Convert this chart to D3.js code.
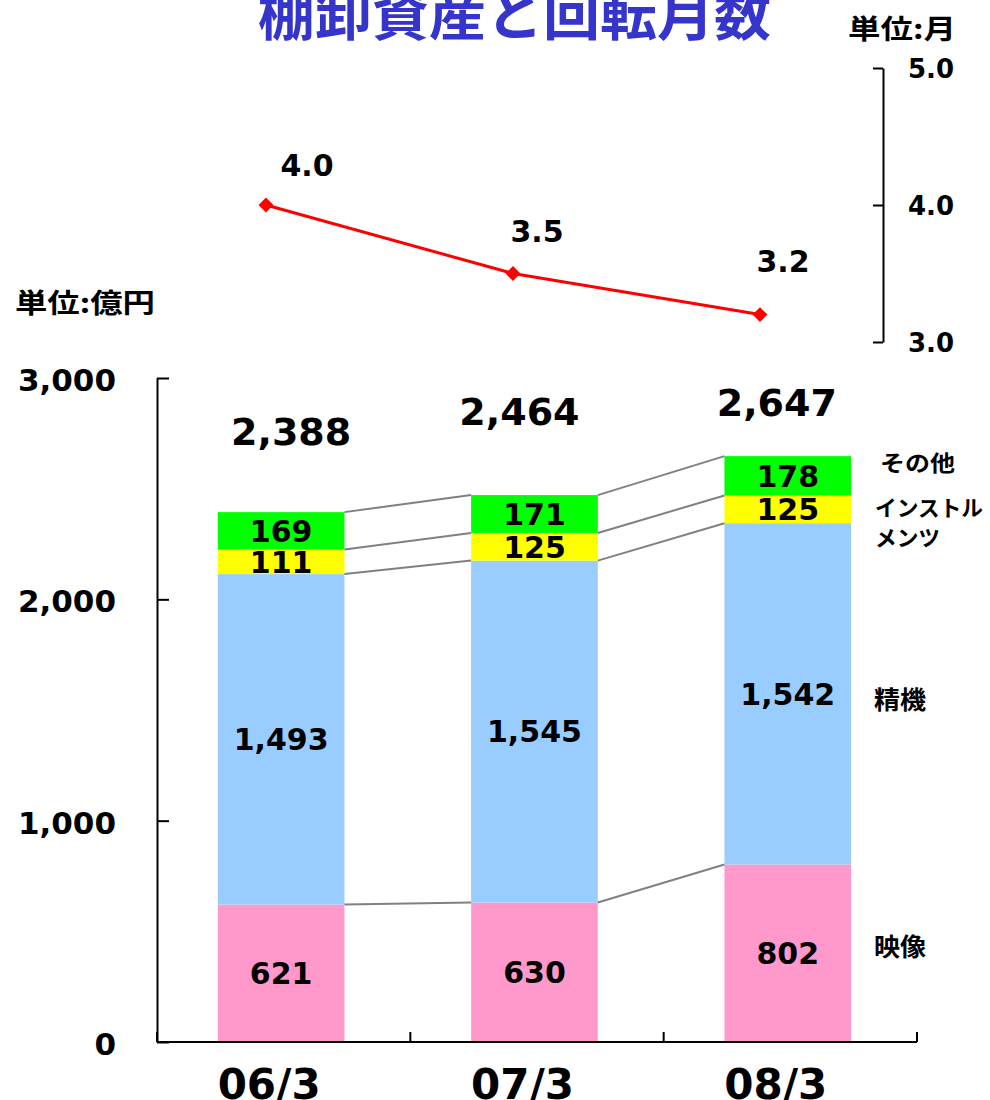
<!DOCTYPE html>
<html><head><meta charset="utf-8">
<script src="https://cdn.jsdelivr.net/npm/d3@7"></script>
<style>
html,body{margin:0;padding:0;background:#fff;}
svg{display:block;}
</style></head>
<body><svg id="c" width="990" height="1100"></svg>
<script>
// ---- data ----
const categories = ["06/3", "07/3", "08/3"];
const seriesNames = ["映像", "精機", "インストルメンツ", "その他"];
const eizo = [621, 630, 802];
const seiki = [1493, 1545, 1542];
const instruments = [111, 125, 125];
const sonota = [169, 171, 178];
const totals = [2388, 2464, 2647];
const months = [4.0, 3.5, 3.2];
const leftTicks = [0, 1000, 2000, 3000];
const rightTicks = [3.0, 4.0, 5.0];

// ---- layout ----
const colors = ["#ff99cc", "#99ccff", "#ffff00", "#00ff00"];
const numFont = "'DejaVu Sans', Verdana, sans-serif";
const jpFont = "'Noto Sans CJK JP', 'Noto Sans', sans-serif";
const totalNudge = [[10, -67], [-15, -70], [-11, -40]];
const monthNudge = [[41, -29], [24, -32], [23, -43]];

const svg = d3.select("#c");
const stacks = [eizo, seiki, instruments, sonota];
const rows = categories.map((c, i) => {
  const o = {cat: c};
  seriesNames.forEach((s, k) => o[s] = stacks[k][i]);
  return o;
});
const stacked = d3.stack().keys(seriesNames)(rows);

const y = d3.scaleLinear().domain([0, 3000]).range([1042, 378]);
const x = d3.scaleBand().domain(categories).range([157, 917])
  .paddingInner(0.5).paddingOuter(0.25).align(0.48);
const yR = d3.scaleLinear().domain([3, 5]).range([342, 68]);
const xL = d3.scalePoint().domain(categories).range([266, 760]);

// title
svg.append("text").attr("x", 258).attr("y", 35)
  .attr("textLength", 513).attr("lengthAdjust", "spacingAndGlyphs")
  .style("font-family", jpFont).style("font-weight", "bold")
  .style("font-size", "56px").attr("fill", "#3535cc")
  .text("棚卸資産と回転月数");

svg.append("text").attr("x", 848).attr("y", 39)
  .attr("textLength", 108).attr("lengthAdjust", "spacingAndGlyphs")
  .style("font-family", jpFont).style("font-weight", "bold")
  .style("font-size", "27px").text("単位:月");

svg.append("text").attr("x", 15).attr("y", 313)
  .attr("textLength", 140).attr("lengthAdjust", "spacingAndGlyphs")
  .style("font-family", jpFont).style("font-weight", "bold")
  .style("font-size", "27px").text("単位:億円");

// bars
const bw = x.bandwidth();
stacked.forEach((layer, k) => {
  svg.append("g").selectAll("rect").data(layer).join("rect")
    .attr("x", (d, i) => x(categories[i]))
    .attr("y", d => y(d[1]))
    .attr("width", bw)
    .attr("height", d => y(d[0]) - y(d[1]))
    .attr("fill", colors[k]);
});

// connector lines
stacked.forEach(layer => {
  for (let i = 0; i < categories.length - 1; i++) {
    svg.append("line")
      .attr("x1", x(categories[i]) + bw).attr("y1", y(layer[i][1]))
      .attr("x2", x(categories[i + 1])).attr("y2", y(layer[i + 1][1]))
      .attr("stroke", "#808080").attr("stroke-width", 2);
  }
});

// segment labels
stacked.forEach(layer => {
  svg.append("g").selectAll("text").data(layer).join("text")
    .attr("x", (d, i) => x(categories[i]) + bw / 2)
    .attr("y", d => y((d[0] + d[1]) / 2))
    .attr("dy", "0.36em")
    .attr("text-anchor", "middle")
    .style("font-family", numFont).style("font-weight", "bold")
    .style("font-size", "30px")
    .text(d => d3.format(",")(d[1] - d[0]));
});

// totals
const topLayer = stacked[stacked.length - 1];
svg.append("g").selectAll("text").data(totals).join("text")
  .attr("x", (d, i) => x(categories[i]) + bw / 2 + totalNudge[i][0])
  .attr("y", (d, i) => y(topLayer[i][1]) + totalNudge[i][1])
  .attr("text-anchor", "middle")
  .style("font-family", numFont).style("font-weight", "bold")
  .style("font-size", "38px")
  .text(d => d3.format(",")(d));

// left axis
const gL = svg.append("g").attr("transform", "translate(157,0)")
  .call(d3.axisLeft(y).tickValues(leftTicks).tickFormat(d3.format(","))
    .tickSizeInner(-12).tickSizeOuter(0).tickPadding(41));
gL.select(".domain").attr("stroke", "#000").attr("stroke-width", 2);
gL.selectAll(".tick line").attr("stroke", "#000").attr("stroke-width", 2);
gL.selectAll(".tick text").attr("dy", "0.4em")
  .style("font-family", numFont).style("font-weight", "bold").style("font-size", "31px");

// bottom axis
const r = x.range();
const gB = svg.append("g");
gB.append("line").attr("x1", r[0]).attr("x2", r[1])
  .attr("y1", y(0)).attr("y2", y(0)).attr("stroke", "#000").attr("stroke-width", 2);
d3.range(categories.length + 1).forEach(i => {
  const xx = r[0] + i * (r[1] - r[0]) / categories.length;
  gB.append("line").attr("x1", xx).attr("x2", xx)
    .attr("y1", y(0)).attr("y2", y(0) - 10).attr("stroke", "#000").attr("stroke-width", 2);
});
gB.selectAll("text.cat").data(categories).join("text").attr("class", "cat")
  .attr("x", d => x(d) + bw / 2 - 12).attr("y", y(0) + 57)
  .attr("text-anchor", "middle")
  .style("font-family", numFont).style("font-weight", "bold").style("font-size", "42px")
  .text(d => d);

// right axis
const gR = svg.append("g").attr("transform", "translate(883,0)")
  .call(d3.axisRight(yR).tickValues(rightTicks).tickFormat(d3.format(".1f"))
    .tickSizeInner(-10).tickSizeOuter(0).tickPadding(25));
gR.select(".domain").attr("stroke", "#000").attr("stroke-width", 2);
gR.selectAll(".tick line").attr("stroke", "#000").attr("stroke-width", 2);
gR.selectAll(".tick text").attr("dy", "0.36em")
  .style("font-family", numFont).style("font-weight", "bold").style("font-size", "26px");

// line
svg.append("path").datum(months)
  .attr("d", d3.line().x((d, i) => xL(categories[i])).y(d => yR(d)))
  .attr("fill", "none").attr("stroke", "#ff0000").attr("stroke-width", 3);
svg.append("g").selectAll("path").data(months).join("path")
  .attr("d", d3.symbol(d3.symbolSquare, 110))
  .attr("transform", (d, i) => `translate(${xL(categories[i])},${yR(d)}) rotate(45)`)
  .attr("fill", "#ff0000");
svg.append("g").selectAll("text").data(months).join("text")
  .attr("x", (d, i) => xL(categories[i]) + monthNudge[i][0])
  .attr("y", (d, i) => yR(d) + monthNudge[i][1])
  .attr("text-anchor", "middle")
  .style("font-family", numFont).style("font-weight", "bold").style("font-size", "30px")
  .text(d => d3.format(".1f")(d));

// series labels
const lab = [
  {t: "その他", x: 880, y: 471, w: 75, s: 22},
  {t: "インストル", x: 875, y: 516, w: 108, s: 22},
  {t: "メンツ", x: 875, y: 546, w: 65, s: 22},
  {t: "精機", x: 874, y: 709, w: 52, s: 25},
  {t: "映像", x: 874, y: 956, w: 52, s: 25}
];
svg.append("g").selectAll("text").data(lab).join("text")
  .attr("x", d => d.x).attr("y", d => d.y)
  .attr("textLength", d => d.w).attr("lengthAdjust", "spacingAndGlyphs")
  .style("font-family", jpFont).style("font-weight", "bold").style("font-size", d => d.s + "px")
  .text(d => d.t);
</script></body></html>
